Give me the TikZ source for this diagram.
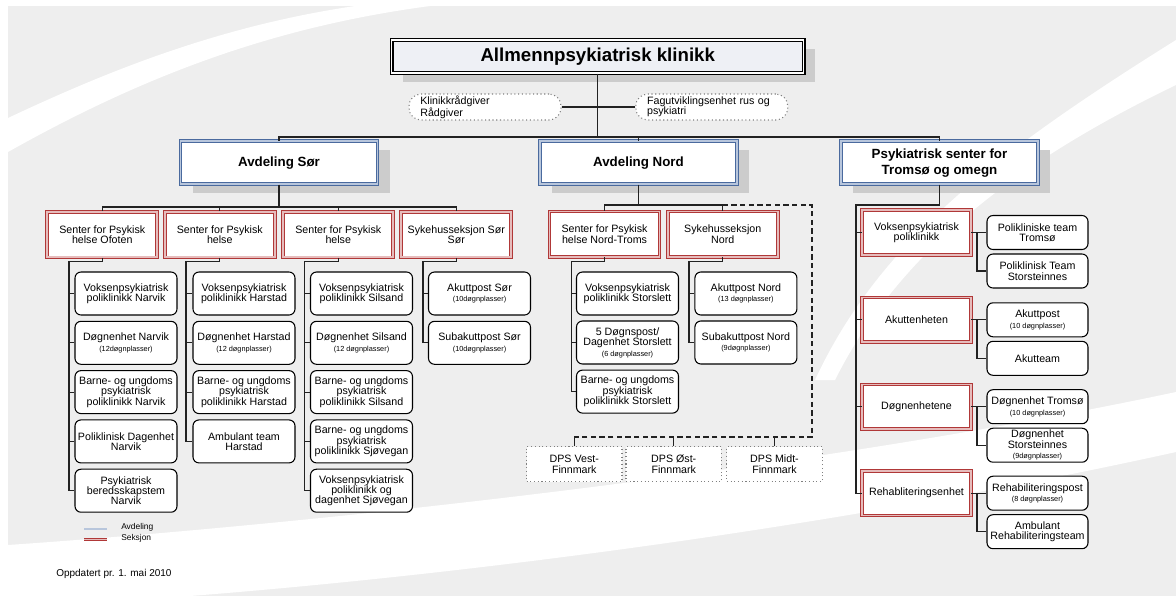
\documentclass[tikz,border=0pt]{standalone}
\usepackage{fontspec}
\setmainfont{Liberation Sans}
\usetikzlibrary{shadows}
\definecolor{bggray}{HTML}{EEEEEE}
\definecolor{shadowgray}{HTML}{CCCCCC}
\definecolor{topfill}{HTML}{EEF0F5}
\definecolor{avdblue}{HTML}{4A6A9E}
\definecolor{avdlight}{HTML}{B8C6DC}
\definecolor{seksred}{HTML}{B03838}
\definecolor{sekslight}{HTML}{E6BCBC}
\definecolor{linegray}{HTML}{222222}
\newcommand{\plass}[1]{{\fontsize{5.5}{6.5}\selectfont #1}}

\begin{document}
\begin{tikzpicture}[x=0.75pt,y=-0.75pt]

\tikzset{
  txt/.style = {font=\fontsize{8}{7.8}\selectfont, align=center, inner sep=1pt},
  klinikkbox/.style = {draw=black, double=white, double distance=.9pt, line width=.9pt,
      fill=topfill, minimum width=309pt, minimum height=24.75pt,
      font=\fontsize{14}{16}\selectfont\bfseries,
      drop shadow={shadow xshift=8.5pt, shadow yshift=-6.5pt, fill=shadowgray, opacity=1}},
  avdbox/.style = {draw=avdblue, double=avdlight, double distance=1.3pt, line width=.7pt,
      fill=white, minimum width=147.75pt, minimum height=32.25pt, align=center,
      font=\fontsize{10}{12}\selectfont\bfseries,
      drop shadow={shadow xshift=9pt, shadow yshift=-6.5pt, fill=shadowgray, opacity=1}},
  seksbox/.style = {txt, draw=seksred, double=sekslight, double distance=1.3pt, line width=.7pt,
      fill=white, minimum width=82.5pt, minimum height=34.2pt},
  seksboxR/.style = {seksbox, minimum width=81.75pt, minimum height=33.4pt},
  enhet/.style = {txt, draw=black, rounded corners=4.5pt, line width=.8pt, fill=white,
      minimum width=76.5pt, minimum height=32.25pt},
  enhetR/.style = {enhet, minimum width=75.75pt, minimum height=25.5pt},
  stabbox/.style = {txt, draw=gray, dotted, line width=.8pt, rounded corners=9pt, fill=white,
      minimum width=114pt, minimum height=19.5pt, text width=97pt, align=left},
  dpsbox/.style = {txt, draw=gray, dotted, line width=.8pt, fill=white,
      minimum width=71.6pt, minimum height=26.25pt},
  conn/.style = {draw=linegray, line width=.9pt},
  stiplet/.style = {draw=linegray, line width=.9pt, dash pattern=on 4pt off 2.5pt},
  legtxt/.style = {anchor=west, font=\fontsize{6.3}{7}\selectfont, inner sep=0pt},
}

\useasboundingbox (0,0) rectangle (1176,596);
\fill[bggray] (8,6) rectangle (1176,596);
\fill[white] (8,152) .. controls (150,72) and (280,26) .. (430,6) -- (355,6)
   .. controls (220,26) and (110,70) .. (8,118) -- cycle;
\fill[white] (8,545) .. controls (300,525) and (800,472) .. (1176,392) -- (1176,452)
   .. controls (800,535) and (420,578) .. (190,596) -- (8,596) -- cycle;
\fill[white] (1176,40) .. controls (1000,150) and (880,240) .. (815,380) -- (835,380)
   .. controls (900,250) and (1020,160) .. (1176,85) -- cycle;

% top level
\node[klinikkbox] (klinikk) at (597.75,56.5) {Allmennpsykiatrisk klinikk};
\node[stabbox] (raadgiver) at (485,107) {Klinikkrådgiver\\Rådgiver};
\node[stabbox] (fagenhet) at (711.75,107) {Fagutviklingsenhet rus og\\psykiatri};

\node[avdbox] (avdsor) at (279,162.7) {Avdeling Sør};
\node[avdbox] (avdnord) at (638.5,162.7) {Avdeling Nord};
\node[avdbox] (avdtromso) at (939.5,162.7) {Psykiatrisk senter for\\Tromsø og omegn};

\coordinate (hub) at (597.75,137);
\draw[conn] (klinikk.south) -- (hub);
\draw[conn] (raadgiver.east) -- (fagenhet.west);
\draw[conn] (avdsor.north) |- (hub) -| (avdtromso.north);
\draw[conn] (hub) -| (avdnord.north);

% Avdeling Sør
\node[seksbox] (sorA) at (102.25,234.5) {Senter for Psykisk\\helse Ofoten};
\node[seksbox] (sorB) at (219.75,234.5) {Senter for Psykisk\\helse};
\node[seksbox] (sorC) at (338.25,234.5) {Senter for Psykisk\\helse};
\node[seksbox] (sorD) at (456.25,234.5) {Sykehusseksjon Sør\\Sør};

\coordinate (sorbus) at (279,207);
\draw[conn] (avdsor.south) -- (sorbus);
\draw[conn] (sorA.north) |- (sorbus) -| (sorD.north);
\draw[conn] (sorbus) -| (sorB.north);
\draw[conn] (sorbus) -| (sorC.north);

\node[enhet] (sorA1) at (126,293.5) {Voksenpsykiatrisk\\poliklinikk Narvik};
\node[enhet] (sorA2) at (126,342.8) {Døgnenhet Narvik\\\plass{(12døgnplasser)}};
\node[enhet] (sorA3) at (126,392.1) {Barne- og ungdoms\\psykiatrisk\\poliklinikk Narvik};
\node[enhet] (sorA4) at (126,441.4) {Poliklinisk Dagenhet\\Narvik};
\node[enhet] (sorA5) at (126,490.7) {Psykiatrisk\\beredsskapstem\\Narvik};

\node[enhet] (sorB1) at (244,293.5) {Voksenpsykiatrisk\\poliklinikk Harstad};
\node[enhet] (sorB2) at (244,342.8) {Døgnenhet Harstad\\\plass{(12 døgnplasser)}};
\node[enhet] (sorB3) at (244,392.1) {Barne- og ungdoms\\psykiatrisk\\poliklinikk Harstad};
\node[enhet] (sorB4) at (244,441.4) {Ambulant team\\Harstad};

\node[enhet] (sorC1) at (361.5,293.5) {Voksenpsykiatrisk\\poliklinikk Silsand};
\node[enhet] (sorC2) at (361.5,342.8) {Døgnenhet Silsand\\\plass{(12 døgnplasser)}};
\node[enhet] (sorC3) at (361.5,392.1) {Barne- og ungdoms\\psykiatrisk\\poliklinikk Silsand};
\node[enhet] (sorC4) at (361.5,441.4) {Barne- og ungdoms\\psykiatrisk\\poliklinikk Sjøvegan};
\node[enhet] (sorC5) at (361.5,490.7) {Voksenpsykiatrisk\\poliklinikk og\\dagenhet Sjøvegan};

\node[enhet] (sorD1) at (479.5,293.5) {Akuttpost Sør\\\plass{(10døgnplasser)}};
\node[enhet] (sorD2) at (479.5,342.8) {Subakuttpost Sør\\\plass{(10døgnplasser)}};

\coordinate (kA) at (69,261.5);
\coordinate (kB) at (186,261.5);
\coordinate (kC) at (304.5,261.5);
\coordinate (kD) at (423,261.5);
\draw[conn] (sorA.south) |- (kA) |- (sorA5.west);
\draw[conn] (kA) |- (sorA1.west);
\draw[conn] (kA) |- (sorA2.west);
\draw[conn] (kA) |- (sorA3.west);
\draw[conn] (kA) |- (sorA4.west);
\draw[conn] (sorB.south) |- (kB) |- (sorB4.west);
\draw[conn] (kB) |- (sorB1.west);
\draw[conn] (kB) |- (sorB2.west);
\draw[conn] (kB) |- (sorB3.west);
\draw[conn] (sorC.south) |- (kC) |- (sorC5.west);
\draw[conn] (kC) |- (sorC1.west);
\draw[conn] (kC) |- (sorC2.west);
\draw[conn] (kC) |- (sorC3.west);
\draw[conn] (kC) |- (sorC4.west);
\draw[conn] (sorD.south) |- (kD) |- (sorD2.west);
\draw[conn] (kD) |- (sorD1.west);

% Avdeling Nord
\node[seksbox] (nordA) at (604.5,234.2) {Senter for Psykisk\\helse Nord-Troms};
\node[seksbox] (nordB) at (722.75,234.2) {Sykehusseksjon\\Nord};

\coordinate (nordbus) at (638.5,205);
\draw[conn] (avdnord.south) -- (nordbus);
\draw[conn] (nordA.north) |- (nordbus) -| (nordB.north);

\node[enhet] (nordA1) at (627.5,293.5) {Voksenpsykiatrisk\\poliklinikk Storslett};
\node[enhet] (nordA2) at (627.5,342.5) {5 Døgnspost/\\Dagenhet Storslett\\\plass{(6 døgnplasser)}};
\node[enhet] (nordA3) at (627.5,391.6) {Barne- og ungdoms\\psykiatrisk\\poliklinikk Storslett};
\node[enhet] (nordB1) at (745.9,293.5) {Akuttpost Nord\\\plass{(13 døgnplasser)}};
\node[enhet] (nordB2) at (745.9,342.5) {Subakuttpost Nord\\\plass{(9døgnplasser)}};

\coordinate (kNA) at (571.7,261.5);
\coordinate (kNB) at (689,261.5);
\draw[conn] (nordA.south) |- (kNA) |- (nordA3.west);
\draw[conn] (kNA) |- (nordA1.west);
\draw[conn] (kNA) |- (nordA2.west);
\draw[conn] (nordB.south) |- (kNB) |- (nordB2.west);
\draw[conn] (kNB) |- (nordB1.west);

\node[dpsbox] (dpsvest) at (574.25,464.2) {DPS Vest-\\Finnmark};
\node[dpsbox] (dpsost) at (673.75,464.2) {DPS Øst-\\Finnmark};
\node[dpsbox] (dpsmidt) at (774.5,464.2) {DPS Midt-\\Finnmark};

\coordinate (dpshjorne) at (812,205);
\coordinate (dpsbus) at (812,437);
\draw[stiplet] (nordB.north |- nordbus) -- (dpshjorne) -- (dpsbus) -- (dpsvest.north |- dpsbus);
\draw[conn] (dpsvest.north |- dpsbus) -- (dpsvest.north);
\draw[conn] (dpsost.north |- dpsbus) -- (dpsost.north);
\draw[conn] (dpsmidt.north |- dpsbus) -- (dpsmidt.north);

% Psykiatrisk senter for Tromsø og omegn
\node[seksboxR] (tromA) at (916.5,232.5) {Voksenpsykiatrisk\\poliklinikk};
\node[seksboxR] (tromB) at (916.5,319.8) {Akuttenheten};
\node[seksboxR] (tromC) at (916.5,406.7) {Døgnenhetene};
\node[seksboxR] (tromD) at (916.5,493.2) {Rehabliteringsenhet};

\coordinate (kT) at (856,205);
\draw[conn] (avdtromso.south) |- (kT) |- (tromD.west);
\draw[conn] (kT) |- (tromA.west);
\draw[conn] (kT) |- (tromB.west);
\draw[conn] (kT) |- (tromC.west);

\node[enhetR] (tromA1) at (1037.5,232.5) {Polikliniske team\\Tromsø};
\node[enhetR] (tromA2) at (1037.5,271) {Poliklinisk Team\\Storsteinnes};
\node[enhetR] (tromB1) at (1037.5,319.8) {Akuttpost\\\plass{(10 døgnplasser)}};
\node[enhetR] (tromB2) at (1037.5,358.3) {Akutteam};
\node[enhetR] (tromC1) at (1037.5,406.7) {Døgnenhet Tromsø\\\plass{(10 døgnplasser)}};
\node[enhetR] (tromC2) at (1037.5,445.2) {Døgnenhet\\Storsteinnes\\\plass{(9døgnplasser)}};
\node[enhetR] (tromD1) at (1037.5,493.2) {Rehabiliteringspost\\\plass{(8 døgnplasser)}};
\node[enhetR] (tromD2) at (1037.5,531.7) {Ambulant\\Rehabiliteringsteam};

\coordinate (kTA) at (977,232.5);
\coordinate (kTB) at (977,319.8);
\coordinate (kTC) at (977,406.7);
\coordinate (kTD) at (977,493.2);
\draw[conn] (tromA.east) -- (tromA1.west);
\draw[conn] (kTA) |- (tromA2.west);
\draw[conn] (tromB.east) -- (tromB1.west);
\draw[conn] (kTB) |- (tromB2.west);
\draw[conn] (tromC.east) -- (tromC1.west);
\draw[conn] (kTC) |- (tromC2.west);
\draw[conn] (tromD.east) -- (tromD1.west);
\draw[conn] (kTD) |- (tromD2.west);

% legend
\coordinate (avdA) at (84,529);
\coordinate (avdZ) at (107,529);
\coordinate (seksA) at (84,539.5);
\coordinate (seksZ) at (107,539.5);
\draw[draw=avdblue, double=avdlight, double distance=1pt, line width=.6pt] (avdA) -- (avdZ);
\draw[draw=seksred, double=sekslight, double distance=1pt, line width=.6pt] (seksA) -- (seksZ);
\node[legtxt] (legavd) at (121,527.5) {Avdeling};
\node[legtxt] (legseks) at (121,538) {Seksjon};

\node[anchor=west, font=\fontsize{7.5}{9}\selectfont, inner sep=0pt] (oppdatert) at (56,574.3) {Oppdatert pr. 1. mai 2010};

\end{tikzpicture}
\end{document}
